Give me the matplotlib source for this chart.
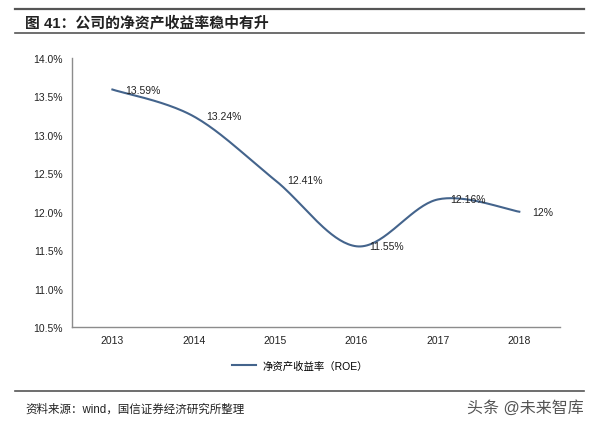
import numpy as np
import matplotlib
matplotlib.use('Agg')
import matplotlib.pyplot as plt
from matplotlib.lines import Line2D

plt.rcParams['font.family'] = ['Liberation Sans', 'Noto Sans CJK SC', 'DejaVu Sans']

years = ['2013', '2014', '2015', '2016', '2017', '2018']
roe = [13.59, 13.24, 12.41, 11.55, 12.16, 12.00]
labels = ['13.59%', '13.24%', '12.41%', '11.55%', '12.16%', '12%']
yticks = [10.5, 11.0, 11.5, 12.0, 12.5, 13.0, 13.5, 14.0]

LINE = '#44648c'
GRAY = '#8c8c8c'


def smooth(xs, ys, n=40):
    # excel-like smoothed line (catmull-rom through bezier segments)
    xs = np.asarray(xs, float)
    ys = np.asarray(ys, float)
    px = np.concatenate([[xs[0]], xs, [xs[-1]]])
    py = np.concatenate([[ys[0]], ys, [ys[-1]]])
    outx, outy = [], []
    t = np.linspace(0, 1, n)
    for i in range(1, len(px) - 2):
        p0 = np.array([px[i], py[i]])
        p3 = np.array([px[i + 1], py[i + 1]])
        c1 = p0 + (np.array([px[i + 1], py[i + 1]]) - np.array([px[i - 1], py[i - 1]])) / 6
        c2 = p3 - (np.array([px[i + 2], py[i + 2]]) - np.array([px[i], py[i]])) / 6
        b = ((1 - t) ** 3)[:, None] * p0 + (3 * (1 - t) ** 2 * t)[:, None] * c1 \
            + (3 * (1 - t) * t ** 2)[:, None] * c2 + (t ** 3)[:, None] * p3
        outx.extend(b[:, 0])
        outy.extend(b[:, 1])
    return outx, outy


fig = plt.figure(figsize=(5.94, 4.27), dpi=100)

# header
fig.add_artist(Line2D([15 / 594, 584 / 594], [1 - 10 / 427] * 2, color='#555555', lw=1.6))
fig.add_artist(Line2D([15 / 594, 584 / 594], [1 - 34 / 427] * 2, color='#555555', lw=1.2))
fig.text(25 / 594, 1 - 22.5 / 427, '图 41：公司的净资产收益率稳中有升', fontsize=10.7,
         fontweight='bold', va='center', ha='left', color='#222222')

ax = fig.add_axes([71.7 / 594, 1 - 328 / 427, (560 - 71.7) / 594, (328 - 59) / 427])
x = np.arange(len(years))
sx, sy = smooth(x, roe)
ax.plot(sx, sy, color=LINE, lw=1.5, label='净资产收益率（ROE）')
for xi, yi, lab in zip(x, roe, labels):
    ax.annotate(lab, (xi, yi), xytext=(9, 0), textcoords='offset points',
                ha='left', va='center', fontsize=7.5, color='#222222')

ax.set_xlim(-0.5, len(years) - 0.5)
ax.set_ylim(10.5, 14.0)
ax.set_xticks(x)
ax.set_xticklabels(years)
ax.set_yticks(yticks)
ax.set_yticklabels([f'{v:.1f}%' for v in yticks])
ax.tick_params(axis='both', length=0, labelsize=7.5, colors='#222222')
ax.tick_params(axis='x', pad=6)
ax.tick_params(axis='y', pad=6.5)
for s in ['top', 'right']:
    ax.spines[s].set_visible(False)
for s in ['left', 'bottom']:
    ax.spines[s].set_color(GRAY)
    ax.spines[s].set_linewidth(1.0)

fig.legend(handles=ax.get_lines(), loc='center', bbox_to_anchor=(300 / 594, 1 - 367 / 427),
           frameon=False, fontsize=7.5, handlelength=2.3, handletextpad=0.6)

# footer
fig.add_artist(Line2D([15 / 594, 584 / 594], [1 - 392 / 427] * 2, color='#555555', lw=1.2))
fig.text(25 / 594, 1 - 410 / 427, '资料来源：wind，国信证券经济研究所整理', fontsize=8.3,
         va='center', ha='left', color='#222222')
fig.text(584 / 594, 1 - 408 / 427, '头条 @未来智库', fontsize=11.5,
         va='center', ha='right', color='#555555')

fig.savefig('out.png', dpi=100)
